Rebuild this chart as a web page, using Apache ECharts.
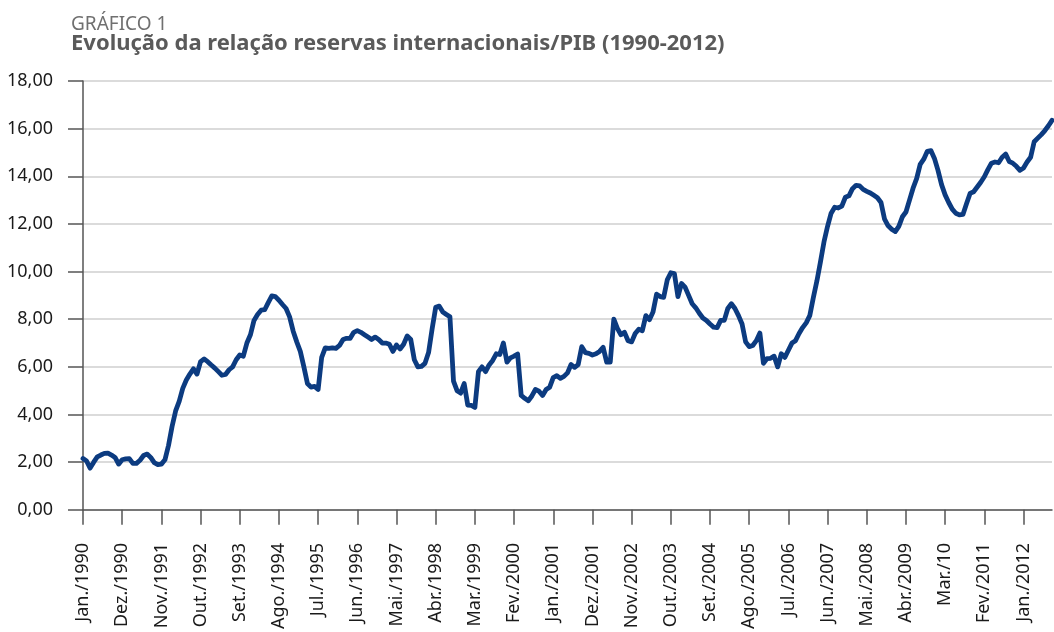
<!DOCTYPE html>
<html>
<head>
<meta charset="utf-8">
<script src="https://cdn.jsdelivr.net/npm/echarts@6/dist/echarts.min.js"></script>
<style>
  html, body { margin: 0; padding: 0; background: #fff; }
  #chart { width: 1054px; height: 632px; }
</style>
</head>
<body>
<div id="chart"></div>
<script>
// meses e rótulos do eixo
var monthNames = ['Jan.', 'Fev.', 'Mar.', 'Abr.', 'Mai.', 'Jun.', 'Jul.', 'Ago.', 'Set.', 'Out.', 'Nov.', 'Dez.'];
var firstYear = 1990;
var tickLabels = ['Jan./1990', 'Dez./1990', 'Nov./1991', 'Out./1992', 'Set./1993', 'Ago./1994',
  'Jul./1995', 'Jun./1996', 'Mai./1997', 'Abr./1998', 'Mar./1999', 'Fev./2000', 'Jan./2001',
  'Dez./2001', 'Nov./2002', 'Out./2003', 'Set./2004', 'Ago./2005', 'Jul./2006', 'Jun./2007',
  'Mai./2008', 'Abr./2009', 'Mar./10', 'Fev./2011', 'Jan./2012'];

// reservas internacionais / PIB (%), mensal, jan/1990 - set/2012
var reservasPib = [
  2.15, 2.05, 1.75, 2.00, 2.22, 2.30, 2.37, 2.38, 2.30, 2.20, 1.92, 2.10,
  2.14, 2.15, 1.95, 1.95, 2.08, 2.28, 2.34, 2.20, 1.98, 1.90, 1.92, 2.10,
  2.70, 3.50, 4.15, 4.55, 5.10, 5.45, 5.70, 5.92, 5.70, 6.22, 6.33, 6.22,
  6.08, 5.95, 5.80, 5.65, 5.68, 5.88, 6.00, 6.30, 6.50, 6.45, 7.00, 7.35,
  7.95, 8.20, 8.38, 8.40, 8.70, 8.98, 8.95, 8.80, 8.62, 8.45, 8.10, 7.50,
  7.05, 6.65, 6.00, 5.30, 5.15, 5.18, 5.05, 6.40, 6.80, 6.78, 6.80, 6.78,
  6.90, 7.15, 7.20, 7.20, 7.45, 7.52, 7.45, 7.35, 7.25, 7.15, 7.25, 7.15,
  7.00, 7.00, 6.95, 6.65, 6.92, 6.75, 6.95, 7.30, 7.15, 6.30, 6.00, 6.02,
  6.15, 6.60, 7.60, 8.50, 8.55, 8.30, 8.20, 8.10, 5.40, 5.00, 4.90, 5.30,
  4.40, 4.38, 4.30, 5.80, 6.00, 5.80, 6.08, 6.27, 6.55, 6.52, 7.00, 6.20,
  6.38, 6.45, 6.54, 4.80, 4.68, 4.58, 4.78, 5.05, 4.98, 4.80, 5.05, 5.15,
  5.55, 5.63, 5.52, 5.60, 5.75, 6.10, 5.98, 6.10, 6.85, 6.60, 6.57, 6.50,
  6.55, 6.65, 6.82, 6.20, 6.20, 8.00, 7.62, 7.35, 7.45, 7.10, 7.05, 7.40,
  7.58, 7.52, 8.15, 7.98, 8.30, 9.05, 8.95, 8.92, 9.65, 9.95, 9.92, 8.95,
  9.50, 9.35, 9.00, 8.65, 8.48, 8.25, 8.05, 7.95, 7.80, 7.67, 7.65, 7.95,
  7.95, 8.45, 8.65, 8.45, 8.15, 7.80, 7.05, 6.85, 6.90, 7.10, 7.42, 6.15,
  6.35, 6.36, 6.45, 6.00, 6.55, 6.40, 6.70, 7.00, 7.10, 7.40, 7.65, 7.85,
  8.15, 8.90, 9.60, 10.40, 11.25, 11.90, 12.45, 12.70, 12.67, 12.75, 13.12, 13.18,
  13.48, 13.62, 13.60, 13.45, 13.37, 13.30, 13.20, 13.10, 12.90, 12.20, 11.92, 11.78,
  11.68, 11.90, 12.30, 12.50, 13.00, 13.50, 13.90, 14.50, 14.72, 15.05, 15.08, 14.75,
  14.25, 13.65, 13.22, 12.90, 12.62, 12.45, 12.38, 12.40, 12.85, 13.28, 13.35, 13.55,
  13.75, 13.98, 14.28, 14.55, 14.60, 14.57, 14.80, 14.93, 14.62, 14.55, 14.42, 14.25,
  14.35, 14.60, 14.80, 15.45, 15.60, 15.75, 15.92, 16.12, 16.35
];

var months = [];
for (var i = 0; i < reservasPib.length; i++) {
  months.push(monthNames[i % 12] + '/' + (firstYear + Math.floor(i / 12)));
}

var fontName = '"Noto Sans", "Open Sans", sans-serif';
var chart = echarts.init(document.getElementById('chart'));

var option = {
  animation: false,
  title: [
    {
      text: 'GRÁFICO 1',
      left: 66,
      top: 10,
      textStyle: { fontFamily: fontName, fontSize: 19, fontWeight: 'normal', color: '#707070' }
    },
    {
      text: 'Evolução da relação reservas internacionais/PIB (1990-2012)',
      left: 66,
      top: 28,
      textStyle: { fontFamily: fontName, fontSize: 22, fontWeight: 'bold', color: '#5a5a5a' }
    }
  ],
  grid: {
    left: 83,
    right: 2,
    top: 81,
    bottom: 117,
    containLabel: false
  },
  xAxis: {
    type: 'category',
    data: months,
    boundaryGap: false,
    axisLine: { lineStyle: { color: '#555', width: 1.5 } },
    axisTick: { show: true, interval: 10, length: 15, lineStyle: { color: '#555', width: 1.5 } },
    axisLabel: {
      interval: 10,
      rotate: 90,
      margin: 33,
      fontFamily: fontName,
      fontSize: 18,
      color: '#1a1a1a',
      formatter: function (val, idx) {
        return tickLabels[Math.round(idx / 11)];
      }
    },
    splitLine: { show: false }
  },
  yAxis: {
    type: 'value',
    min: 0,
    max: 18,
    interval: 2,
    axisLine: { show: true, lineStyle: { color: '#555', width: 1.5 } },
    axisTick: { show: true, length: 15, lineStyle: { color: '#555', width: 1.5 } },
    axisLabel: {
      margin: 30,
      fontFamily: fontName,
      fontSize: 18,
      color: '#1a1a1a',
      formatter: function (v) { return v.toFixed(2).replace('.', ','); }
    },
    splitLine: { show: true, lineStyle: { color: '#cfcfcf', width: 1.5 } }
  },
  series: [
    {
      name: 'Reservas/PIB',
      type: 'line',
      data: reservasPib,
      symbol: 'none',
      smooth: false,
      lineStyle: { color: '#0c3b80', width: 4.8, join: 'round', cap: 'round' }
    }
  ]
};

chart.setOption(option);
</script>
</body>
</html>
